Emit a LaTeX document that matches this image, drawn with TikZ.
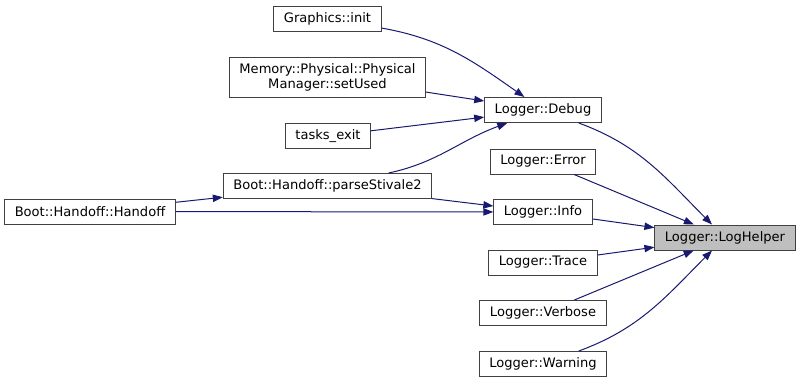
\documentclass[tikz,border=0pt]{standalone}
\usepackage{fontspec}
\setmainfont{DejaVu Sans}
\usepackage{tikz}
\usetikzlibrary{arrows.meta}

\definecolor{edgeblue}{RGB}{25,25,112}
\definecolor{boxline}{RGB}{64,64,64}
\definecolor{selfill}{RGB}{191,191,191}

\begin{document}
\begin{tikzpicture}[x=0.75pt,y=-0.75pt,
  fn/.style={draw=boxline,line width=0.75pt,fill=white,inner xsep=7.5pt,inner ysep=0pt,
    minimum height=18.75pt,font=\fontsize{9.8}{11.2}\selectfont},
  call/.style={draw=edgeblue,line width=0.75pt,-{Triangle[length=7.5pt,width=5.5pt]}}]
\useasboundingbox (0,0) rectangle (800,383);
% callers, left column
\node[fn] (init) at (327.5,18.5) {Graphics::init};
\node[fn,align=center,minimum height=30pt,inner ysep=2pt] (setUsed) at (327.5,77) {Memory::Physical::Physical\\Manager::setUsed};
\node[fn] (tasksExit) at (328,136) {tasks\_exit};
\node[fn] (parse) at (327.5,186) {Boot::Handoff::parseStivale2};
\node[fn] (handoff) at (90,211.5) {Boot::Handoff::Handoff};
% logger front ends
\node[fn] (debug) at (543,110) {Logger::Debug};
\node[fn] (error) at (543,161.5) {Logger::Error};
\node[fn] (info) at (543,212) {Logger::Info};
\node[fn] (trace) at (543,262.5) {Logger::Trace};
\node[fn] (verbose) at (543,313) {Logger::Verbose};
\node[fn] (warning) at (543,364) {Logger::Warning};
\node[fn,fill=selfill] (logHelper) at (725,237.5) {Logger::LogHelper};

\draw[call] (init) to[out=-10,in=145] (debug);
\draw[call] (setUsed) -- (debug);
\draw[call] (tasksExit) -- (debug);
\draw[call] (parse) to[out=12,in=200] (debug);
\draw[call] (parse) -- (info);
\draw[call] (handoff) -- (parse);
\draw[call] (handoff) -- (info);
\draw[call] (debug) to[out=-20,in=135] (logHelper);
\draw[call] (error) -- (logHelper);
\draw[call] (info) -- (logHelper);
\draw[call] (trace) -- (logHelper);
\draw[call] (verbose) -- (logHelper);
\draw[call] (warning) to[out=20,in=225] (logHelper);
\end{tikzpicture}
\end{document}
